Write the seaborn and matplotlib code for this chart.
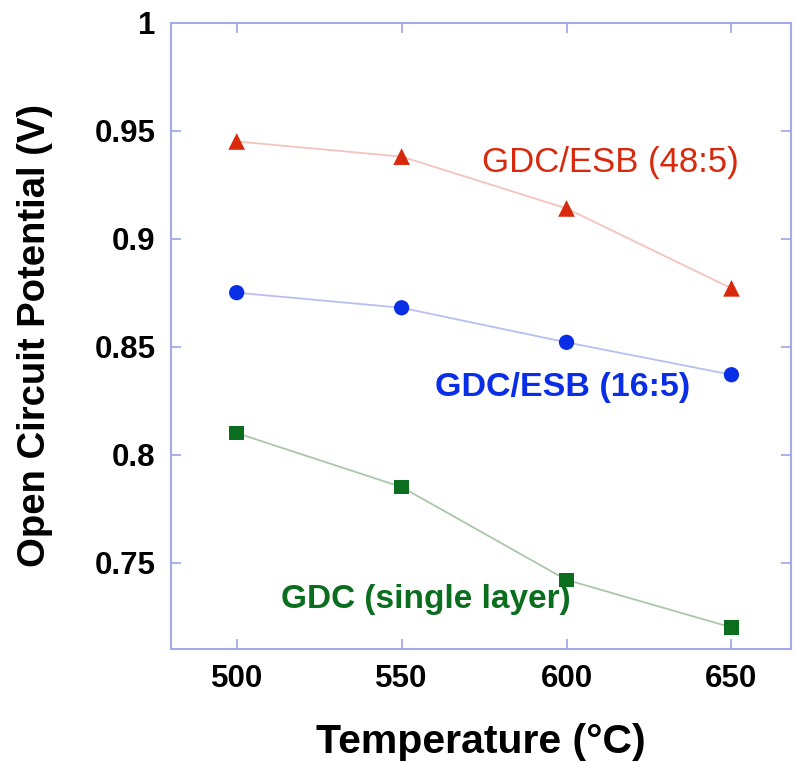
import matplotlib
matplotlib.use("Agg")
import matplotlib.pyplot as plt
import seaborn as sns
import pandas as pd

temps = [500, 550, 600, 650]
ocp_48 = [0.945, 0.938, 0.914, 0.877]
ocp_16 = [0.875, 0.868, 0.852, 0.837]
ocp_single = [0.810, 0.785, 0.742, 0.720]
series_names = ["GDC/ESB (48:5)", "GDC/ESB (16:5)", "GDC (single layer)"]
ytick_vals = [0.75, 0.8, 0.85, 0.9, 0.95, 1.0]
ytick_labels = ["0.75", "0.8", "0.85", "0.9", "0.95", "1"]

sns.set_style("white")
plt.rcParams['font.family'] = ['Liberation Sans', 'DejaVu Sans']
plt.rcParams['text.color'] = 'black'
plt.rcParams['axes.labelcolor'] = 'black'
plt.rcParams['xtick.color'] = 'black'
plt.rcParams['ytick.color'] = 'black'

df = pd.DataFrame({
    'temp': temps * 3,
    'ocp': ocp_48 + ocp_16 + ocp_single,
    'series': [s for s in series_names for _ in temps],
})

fig = plt.figure(figsize=(7.94, 7.62), dpi=100)
ax = fig.add_axes([0.215, 0.1483, 0.781, 0.8219])

styles = {
    "GDC/ESB (48:5)": ('#d8290c', '#f2c4bc', '^', 12),
    "GDC/ESB (16:5)": ('#0a2ee6', '#b8bff0', 'o', 11),
    "GDC (single layer)": ('#0b6e1f', '#a9c8aa', 's', 10.5),
}
for name in series_names:
    mc, lc, mk, ms = styles[name]
    sub = df[df['series'] == name]
    sns.lineplot(data=sub, x='temp', y='ocp', ax=ax, color=lc, lw=1.3,
                 legend=False)
    sns.scatterplot(data=sub, x='temp', y='ocp', ax=ax, color=mc, marker=mk,
                    s=ms ** 2, edgecolor='none', legend=False, zorder=3)

ax.text(574.5, 0.9355, "GDC/ESB (48:5)", color='#d8290c', fontsize=25,
        va='center', ha='left')
ax.text(560, 0.831, "GDC/ESB (16:5)", color='#0a2ee6', fontsize=24.5,
        fontweight='bold', va='center', ha='left')
ax.text(513.5, 0.7327, "GDC (single layer)", color='#0b6e1f', fontsize=24,
        fontweight='bold', va='center', ha='left')

ax.set_xlim(480, 668)
ax.set_ylim(0.71, 1.0)
ax.set_xticks(temps)
ax.set_yticks(ytick_vals)
ax.set_yticklabels(ytick_labels)
ax.set_xlabel("Temperature (°C)", fontsize=29.5, fontweight='bold', labelpad=21)
ax.set_ylabel("Open Circuit Potential (V)", fontsize=27.5, fontweight='bold',
              labelpad=30)

spine_c = '#a3abe8'
for sp in ax.spines.values():
    sp.set_color(spine_c)
    sp.set_linewidth(1.5)
ax.tick_params(direction='in', length=7, width=1.3, color=spine_c,
               bottom=True, left=True, top=True, right=True,
               labelsize=22.5, pad=11, labelcolor='black')
for lab in ax.get_xticklabels() + ax.get_yticklabels():
    lab.set_fontweight('bold')

fig.savefig("out.png", dpi=100)
